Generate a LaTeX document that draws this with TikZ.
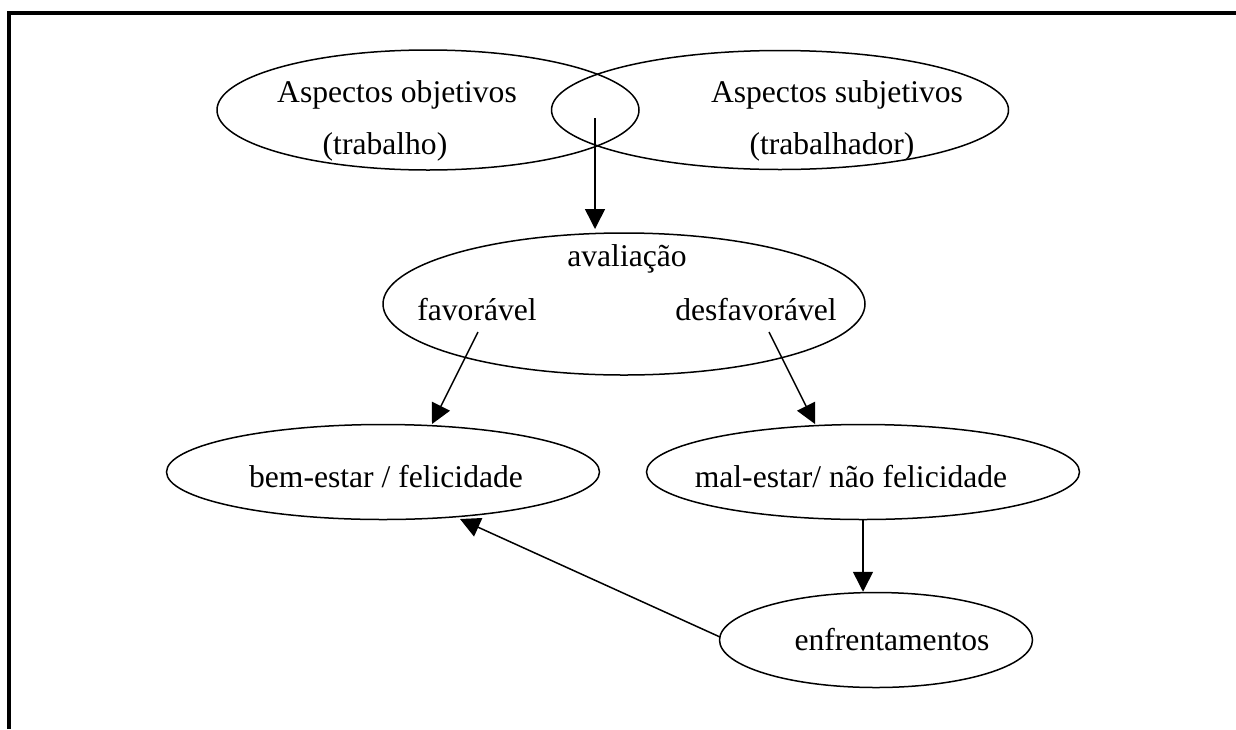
\documentclass[tikz,border=0pt]{standalone}
\usepackage{fontspec}
\setmainfont{Liberation Serif}
\usetikzlibrary{shapes.geometric,arrows.meta}
\tikzset{
  ell/.style={draw, ellipse, inner sep=0pt, line width=1.5pt},
  lbl/.style={anchor=base, inner sep=0pt, font=\fontsize{31.6}{38}\selectfont},
  arr/.style={line width=1.5pt, -{Triangle[length=20pt,width=20pt]}},
  frame/.style={line width=4pt}
}
\begin{document}
\begin{tikzpicture}[x=1pt,y=-1pt]
\useasboundingbox (0,0) rectangle (1236,729);
% frame
\coordinate (fc) at (9,13);
\coordinate (fr) at (1236,13);
\coordinate (fb) at (9,729);
\draw[frame] (fb) -- (fc) -- (fr);
% ellipses
\node[ell, minimum width=422pt, minimum height=120pt] (obj) at (428,110) {};
\node[ell, minimum width=457pt, minimum height=119pt] (sub) at (780,110) {};
\node[ell, minimum width=482pt, minimum height=142pt] (aval) at (624,304) {};
\node[ell, minimum width=433pt, minimum height=95pt] (bem) at (383,472) {};
\node[ell, minimum width=433pt, minimum height=95pt] (mal) at (863,472) {};
\node[ell, minimum width=313pt, minimum height=95pt] (enf) at (876,640) {};
% labels
\node[lbl] (tobj1) at (397,102) {Aspectos objetivos};
\node[lbl] (tobj2) at (385,154) {(trabalho)};
\node[lbl] (tsub1) at (837,102) {Aspectos subjetivos};
\node[lbl] (tsub2) at (832,154) {(trabalhador)};
\node[lbl] (taval) at (627,266) {avaliação};
\node[lbl] (tfav) at (477,320) {favorável};
\node[lbl] (tdes) at (756,320) {desfavorável};
\node[lbl] (tbem) at (386,487) {bem-estar / felicidade};
\node[lbl] (tmal) at (851,487) {mal-estar/ não felicidade};
\node[lbl] (tenf) at (892,650) {enfrentamentos};
% connector points
\coordinate (s1) at (595,118);
\coordinate (e1) at (595,229);
\coordinate (s2) at (478,332);
\coordinate (e2) at (432,424);
\coordinate (s3) at (769,332);
\coordinate (e3) at (815,424);
\coordinate (s5) at (720,637);
\coordinate (e5) at (460,519);
% connectors
\draw[arr] (s1) -- (e1);
\draw[arr] (s2) -- (e2);
\draw[arr] (s3) -- (e3);
\draw[arr] (mal.south) -- (mal.south |- enf.north);
\draw[arr] (s5) -- (e5);
\end{tikzpicture}
\end{document}
